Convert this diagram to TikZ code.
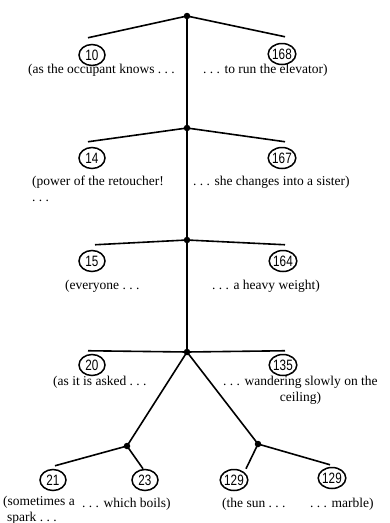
\documentclass[tikz,border=0pt]{standalone}
\usepackage{fontspec}
\setmainfont{Liberation Serif}
\setsansfont{Liberation Sans}
\usetikzlibrary{shapes.geometric}
\tikzset{
  num/.style={draw, ellipse, line width=1.5pt, minimum width=26pt, minimum height=21pt, inner sep=0pt,
    font=\sffamily\fontsize{15}{15}\selectfont},
  dotn/.style={circle, fill, inner sep=0pt, minimum size=6.5pt},
  edge/.style={line width=1.6pt},
  txt/.style={anchor=base west, inner sep=0pt, font=\fontsize{13.5}{15.5}\selectfont, align=left}
}
\newcommand{\nm}[1]{\scalebox{0.78}[1]{#1}}
\begin{document}
\begin{tikzpicture}[x=1pt,y=-1pt]
\useasboundingbox (0,0) rectangle (389,523);
% spine dots
\node[dotn] (d1) at (187,16) {};
\node[dotn] (d2) at (187,128) {};
\node[dotn] (d3) at (187,240) {};
\node[dotn] (d4) at (187,352) {};
\node[dotn] (dl) at (127,446) {};
\node[dotn] (dr) at (258,444) {};
% numbered circles
\node[num] (c10) at (92,55) {\nm{10}};
\node[num] (c168) at (282,54) {\nm{168}};
\node[num] (c14) at (92,158) {\nm{14}};
\node[num] (c167) at (282,158) {\nm{167}};
\node[num] (c15) at (92,261) {\nm{15}};
\node[num] (c164) at (283,261) {\nm{164}};
\node[num] (c20) at (92,365) {\nm{20}};
\node[num] (c135) at (283,365) {\nm{135}};
\node[num] (c21) at (53,480) {\nm{21}};
\node[num] (c23) at (145,480) {\nm{23}};
\node[num] (c129a) at (234,480) {\nm{129}};
\node[num] (c129b) at (332,478) {\nm{129}};
% connectors
\draw[edge] (d1.center) -- (d2.center) -- (d3.center) -- (d4.center);
\draw[edge] (d1.center) -- ([xshift=-4pt,yshift=6pt]c10.north);
\draw[edge] (d1.center) -- ([xshift=3pt,yshift=6pt]c168.north);
\draw[edge] (d2.center) -- ([xshift=-4pt,yshift=5pt]c14.north);
\draw[edge] (d2.center) -- ([xshift=3pt,yshift=5pt]c167.north);
\draw[edge] (d3.center) -- ([xshift=3pt,yshift=5pt]c15.north);
\draw[edge] (d3.center) -- ([xshift=2pt,yshift=5pt]c164.north);
\draw[edge] (d4.center) -- ([xshift=-4pt,yshift=3pt]c20.north);
\draw[edge] (d4.center) -- ([xshift=2pt,yshift=3pt]c135.north);
\draw[edge] (d4.center) -- (dl.center);
\draw[edge] (d4.center) -- (dr.center);
\draw[edge] (dl.center) -- ([xshift=2pt,yshift=3pt]c21.north);
\draw[edge] (dl.center) -- ([xshift=-2pt,yshift=0pt]c23.north);
\draw[edge] (dr.center) -- ([xshift=12pt,yshift=0pt]c129a.north);
\draw[edge] (dr.center) -- ([xshift=-2pt,yshift=2pt]c129b.north);
% texts
\node[txt] (t10) at (28,73) {(as the occupant knows .\ .\ .};
\node[txt] (t168) at (203,73) {.\ .\ . to run the elevator)};
\node[txt] (t14) at (32,201) {(power of the retoucher!\\.\ .\ .};
\node[txt] (t167) at (193,185) {.\ .\ . she changes into a sister)};
\node[txt] (t15) at (65,289) {(everyone .\ .\ .};
\node[txt] (t164) at (212,289) {.\ .\ . a heavy weight)};
\node[txt] (t20) at (53,385) {(as it is asked .\ .\ .};
\node[txt, align=center] (t135) at (223,401) {.\ .\ . wandering slowly on the\\ceiling)};
\node[txt] (t21) at (3,521) {(sometimes a\\\hspace{4pt}spark .\ .\ .};
\node[txt] (t23) at (82,507) {.\ .\ . which boils)};
\node[txt] (t129a) at (222,507) {(the sun .\ .\ .};
\node[txt] (t129b) at (310,507) {.\ .\ . marble)};
\end{tikzpicture}
\end{document}
